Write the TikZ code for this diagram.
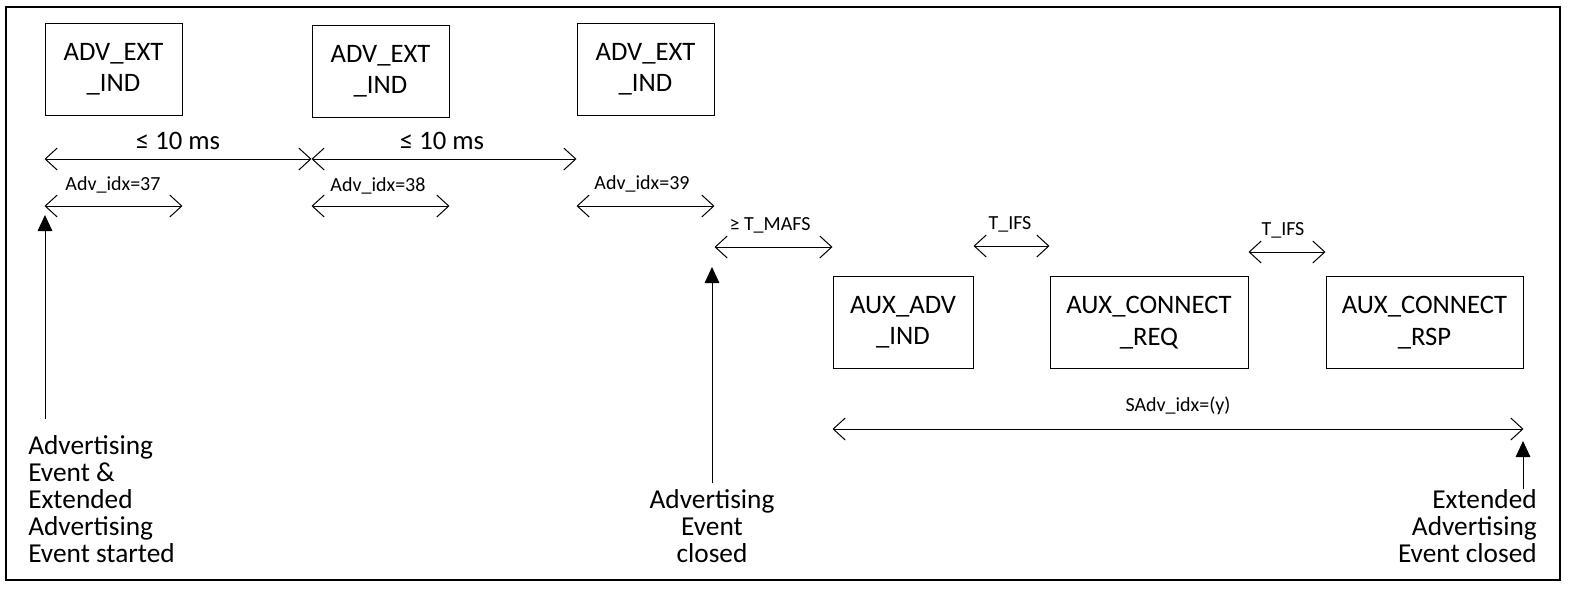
\documentclass[tikz,border=0pt]{standalone}
\usepackage{fontspec}
\setmainfont{Carlito}
\usepackage{tikz}
\usetikzlibrary{arrows.meta, positioning}

\begin{document}
\begin{tikzpicture}[
        x=0.75pt, y=-0.75pt,
        pdu/.style={draw, line width=0.75pt, align=center, inner sep=0pt, minimum height=69pt, font=\fontsize{20}{23.5}\selectfont},
        advpdu/.style={pdu, minimum width=102.75pt},
        lim/.style={anchor=base, inner sep=0pt, font=\fontsize{20}{22}\selectfont},
        tag/.style={anchor=base, inner sep=0pt, font=\fontsize{15}{17}\selectfont},
        note/.style={inner sep=0pt, font=\fontsize{20.5}{20.25}\selectfont},
        dim/.style={{Straight Barb[length=9pt, width=16.5pt]}-{Straight Barb[length=9pt, width=16.5pt]}, line width=0.75pt},
        evt/.style={-{Triangle[length=12pt, width=11pt]}, line width=0.75pt}
    ]
    \useasboundingbox (0,0) rectangle (1572,597);
    \draw [line width=1.5pt] (6,7) rectangle (1560,580);

    % primary channel
    \node (adv1) at (113.5,69) [advpdu] {ADV\_EXT\\\_IND};
    \node (adv2) at (380.5,71) [advpdu] {ADV\_EXT\\\_IND};
    \node (adv3) at (645.5,69) [advpdu] {ADV\_EXT\\\_IND};

    % secondary channel
    \node (aux) at (903,322.5) [pdu, minimum width=105pt] {AUX\_ADV\\\_IND};
    \node (req) at (1149,322.5) [pdu, minimum width=148.5pt] {AUX\_CONNECT\\\_REQ};
    \node (rsp) at (1424.5,322.5) [pdu, minimum width=147.75pt] {AUX\_CONNECT\\\_RSP};

    \coordinate (row10) at (0,159);
    \coordinate (rowidx) at (0,206);
    \coordinate (rowmafs) at (0,247);
    \coordinate (rowifs) at (0,246);
    \coordinate (rowifsb) at (0,252);
    \coordinate (rowsadv) at (0,429);

    \node (lim1) at (178,149) [lim] {≤ 10 ms};
    \node (lim2) at (442,149) [lim] {≤ 10 ms};
    \node (idx37) at (113,190) [tag] {Adv\_idx=37};
    \node (idx38) at (378,191) [tag] {Adv\_idx=38};
    \node (idx39) at (642,189) [tag] {Adv\_idx=39};
    \node (mafs) at (770,230) [tag] {≥ T\_MAFS};
    \node (ifs1) at (1010,229) [tag] {T\_IFS};
    \node (ifs2) at (1283,235) [tag] {T\_IFS};
    \node (sadv) at (1178,411) [tag] {SAdv\_idx=(y)};

    \draw [dim] (adv1.west |- row10) -- (adv2.west |- row10);
    \draw [dim] (adv2.west |- row10) -- (adv3.west |- row10);
    \draw [dim] (adv1.west |- rowidx) -- (adv1.east |- rowidx);
    \draw [dim] (adv2.west |- rowidx) -- (adv2.east |- rowidx);
    \draw [dim] (adv3.west |- rowidx) -- (adv3.east |- rowidx);
    \draw [dim] (adv3.east |- rowmafs) -- (aux.west |- rowmafs);
    \draw [dim] (aux.east |- rowifs) -- (req.west |- rowifs);
    \draw [dim] (req.east |- rowifsb) -- (rsp.west |- rowifsb);
    \draw [dim] (aux.west |- rowsadv) -- (rsp.east |- rowsadv);

    % event markers
    \node (started) at (28,563) [note, anchor=south west, align=left] {Advertising\\Event \&\\Extended\\Advertising\\Event started};
    \node (closed) at (712,563) [note, anchor=south, align=center] {Advertising\\Event\\closed};
    \node (extclosed) at (1537,563) [note, anchor=south east, align=right] {Extended\\Advertising\\Event closed};

    \coordinate (startfoot) at (45,419);
    \coordinate (closedfoot) at (712,483);
    \coordinate (extfoot) at (1523,489);

    \draw [evt] (startfoot) -- (startfoot |- 0,215);
    \draw [evt] (closedfoot) -- (closedfoot |- 0,267);
    \draw [evt] (extfoot) -- (extfoot |- 0,441);

\end{tikzpicture}
\end{document}
